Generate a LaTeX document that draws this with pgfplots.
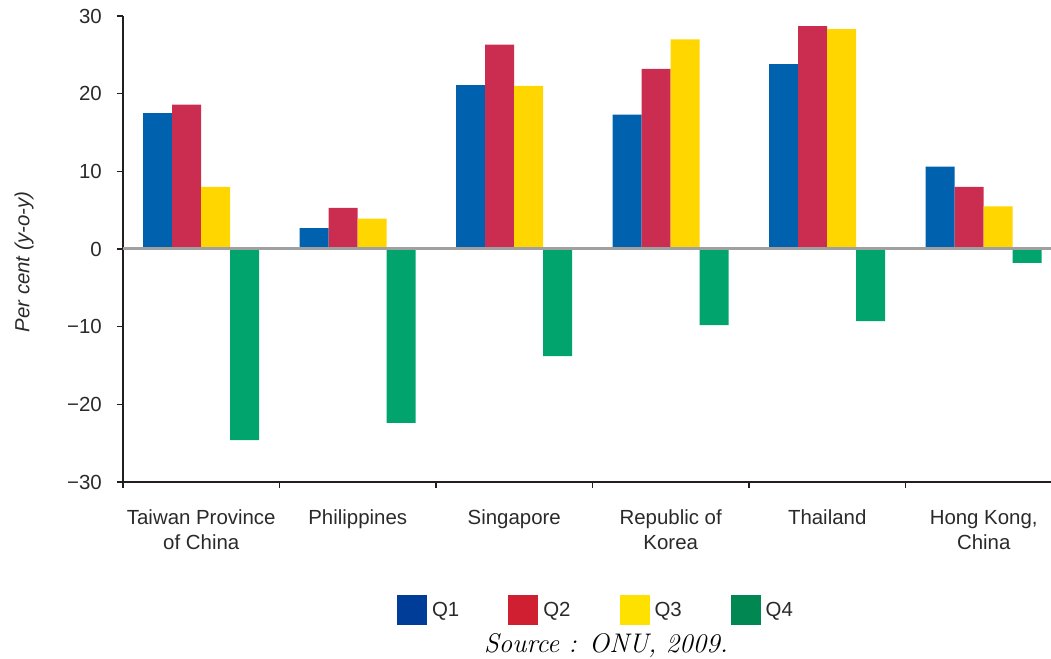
\documentclass[border=0pt]{standalone}
\usepackage{fontspec}
\setsansfont{Liberation Sans}
\renewcommand{\familydefault}{\sfdefault}
\usepackage{pgfplots}
\usepackage{pgfplotstable}
\pgfplotsset{compat=1.18}

% bar colours
\definecolor{bq1}{HTML}{0062AE}
\definecolor{bq2}{HTML}{CB2D51}
\definecolor{bq3}{HTML}{FFD600}
\definecolor{bq4}{HTML}{00A46C}
% legend swatch colours
\definecolor{lq1}{HTML}{003D99}
\definecolor{lq2}{HTML}{D01F30}
\definecolor{lq3}{HTML}{FFE100}
\definecolor{lq4}{HTML}{008752}
\definecolor{axisc}{HTML}{231F20}
\definecolor{zeroc}{HTML}{A0A0A0}
\definecolor{txt}{HTML}{2A2A2A}

\newcommand{\lblfont}{\fontsize{20.5}{25}\selectfont}

\pgfplotsset{
  sq legend/.style={legend image code/.code={\fill[##1, draw=none] (0bp,-15bp) rectangle (30bp,15bp);}},
}

% quarterly growth, per cent (y-o-y)
\pgfplotstableread{
x   q1    q2    q3    q4
0   17.5  18.6  8.0  -24.6
1   2.7   5.3   3.9  -22.4
2   21.1  26.3  21.0 -13.8
3   17.3  23.2  27.0  -9.8
4   23.8  28.7  28.3  -9.3
5   10.6  8.0   5.5   -1.8
}\growth

\begin{document}
\begin{tikzpicture}
\path[use as bounding box] (0bp,0bp) rectangle (1051bp,659bp);
\begin{axis}[
  scale only axis,
  width=928bp, height=466bp,
  at={(123bp,177bp)}, anchor=south west,
  xmin=-0.5, xmax=5.43,
  ymin=-30, ymax=30,
  axis lines=left,
  axis line style={-, line width=2.5bp, color=axisc},
  tick align=outside,
  ytick={-30,-20,-10,0,10,20,30},
  yticklabels={−30,−20,−10,0,10,20,30},
  major tick length=6bp,
  minor tick length=6bp,
  tick style={line width=1.3bp, color=axisc},
  xtick={0,1,2,3,4,5},
  major x tick style={draw=none},
  minor xtick={-0.5,0.5,1.5,2.5,3.5,4.5},
  xticklabels={{Taiwan Province\\of China}, Philippines, Singapore, {Republic of\\Korea}, Thailand, {Hong Kong,\\China}},
  xticklabel style={align=center, inner sep=0pt, anchor=north, yshift=-22bp, font=\lblfont, text=txt},
  yticklabel style={anchor=east, inner sep=0pt, xshift=-15bp, font=\lblfont, text=txt},
  ylabel={\itshape Per cent (y-o-y)},
  ylabel style={at={(axis description cs:-0.1066,0.472)}, anchor=center, font=\lblfont, text=txt},
  bar width=29bp,
  legend columns=4,
  legend style={at={(axis description cs:0.5097,-0.2747)}, anchor=center, draw=none, fill=none,
    font=\lblfont, text=txt,
    /tikz/every odd column/.append style={column sep=3bp},
    /tikz/every even column/.append style={column sep=47bp}},
  clip=false,
]
\addplot[ybar, bar shift=-43.5bp, fill=bq1, draw=none, forget plot] table[x=x, y=q1] {\growth};
\addplot[ybar, bar shift=-14.5bp, fill=bq2, draw=none, forget plot] table[x=x, y=q2] {\growth};
\addplot[ybar, bar shift=14.5bp, fill=bq3, draw=none, forget plot] table[x=x, y=q3] {\growth};
\addplot[ybar, bar shift=43.5bp, fill=bq4, draw=none, forget plot] table[x=x, y=q4] {\growth};
\draw[zeroc, line width=3bp] (axis cs:-0.5,0) -- (axis cs:5.43,0);
\addlegendimage{sq legend, fill=lq1}\addlegendentry{Q1}
\addlegendimage{sq legend, fill=lq2}\addlegendentry{Q2}
\addlegendimage{sq legend, fill=lq3}\addlegendentry{Q3}
\addlegendimage{sq legend, fill=lq4}\addlegendentry{Q4}
\end{axis}
\node[anchor=base] at (606bp,7bp) {\rmfamily\itshape\fontsize{27}{31}\selectfont Source : ONU, 2009.};
\end{tikzpicture}
\end{document}
